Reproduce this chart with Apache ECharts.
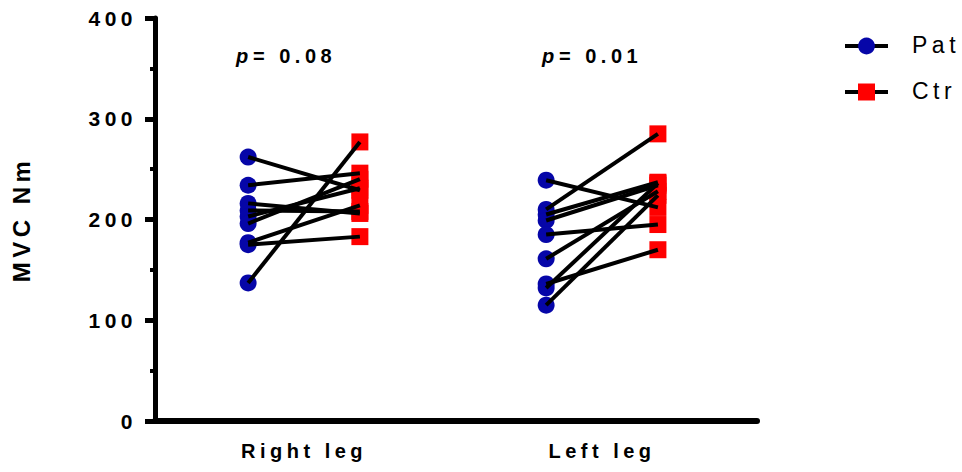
<!DOCTYPE html>
<html>
<head>
<meta charset="utf-8">
<script src="https://cdn.jsdelivr.net/npm/echarts@6/dist/echarts.min.js"></script>
<style>
  html, body { margin: 0; padding: 0; background: #fff; }
  #chart { width: 962px; height: 472px; }
  #chart svg text { letter-spacing: 4.5px; }
</style>
</head>
<body>
<div id="chart"></div>
<script>
// ---- data ----
var categories = ['Right leg', 'Left leg'];
var groupNames = ['Pat', 'Ctr'];
var patRight = [262, 234, 216, 209, 203, 196, 177, 175, 137];
var ctrRight = [229, 246, 206, 208, 231, 240, 214, 183, 277];
var patLeft  = [239, 210, 205, 199, 185, 161, 136, 132, 115];
var ctrLeft  = [212, 285, 237, 234, 195, 228, 170, 236, 224];
var pValues  = ['0.08', '0.01'];
var yTicks   = [0, 100, 200, 300, 400];
var yAxisTitle = 'MVC Nm';

// ---- build ----
var categoryCenters = [1, 3];
var offset = 0.375;
var blue = '#0606A8';
var red = '#FF0000';
var font = 'Liberation Sans, Arial, sans-serif';

var pairs = [[patRight, ctrRight], [patLeft, ctrLeft]];
var series = [];
var patPts = [], ctrPts = [];
pairs.forEach(function (pr, ci) {
  var c = categoryCenters[ci];
  pr[0].forEach(function (v, i) {
    var a = [c - offset, v], b = [c + offset, pr[1][i]];
    patPts.push(a); ctrPts.push(b);
    series.push({
      type: 'line', data: [a, b], symbol: 'none', silent: true, z: 3,
      lineStyle: { color: '#000', width: 4 }
    });
  });
});
series.push({ name: groupNames[0], type: 'scatter', data: patPts, symbol: 'circle',
  symbolSize: 17, itemStyle: { color: blue, opacity: 1 }, z: 2 });
series.push({ name: groupNames[1], type: 'scatter', data: ctrPts, symbol: 'rect',
  symbolSize: 17, itemStyle: { color: red, opacity: 1 }, z: 2 });

var chart = echarts.init(document.getElementById('chart'), null, { renderer: 'svg' });

var graphics = [];
// p-value annotations
var pLeft = [236, 542];
pValues.forEach(function (p, i) {
  graphics.push({
    type: 'text', left: pLeft[i], top: 46,
    style: { text: 'p', font: 'italic bold 20px ' + font, fill: '#000' }
  });
  graphics.push({
    type: 'text', left: pLeft[i] + 17, top: 46,
    style: { text: '= ' + p, font: 'bold 20px ' + font, fill: '#000' }
  });
});
// legend
var legY = [46, 92];
groupNames.forEach(function (n, i) {
  var y = legY[i];
  graphics.push({ type: 'line', shape: { x1: 845, y1: y, x2: 888, y2: y },
    style: { stroke: '#000', lineWidth: 4 } });
  if (i === 0) {
    graphics.push({ type: 'circle', shape: { cx: 866.5, cy: y, r: 8.4 }, style: { fill: blue } });
  } else {
    graphics.push({ type: 'rect', shape: { x: 858, y: y - 8.5, width: 17, height: 17 }, style: { fill: red } });
  }
  graphics.push({ type: 'text', left: 912, top: y - 13,
    style: { text: n, font: '23px ' + font, fill: '#000' } });
});

chart.setOption({
  animation: false,
  backgroundColor: '#fff',
  grid: { left: 155, right: 205, top: 18, bottom: 51, containLabel: false },
  xAxis: {
    type: 'value', min: 0, max: 4.04, interval: 1,
    axisLine: { show: true, lineStyle: { color: '#000', width: 6 } },
    axisTick: { show: false },
    splitLine: { show: false },
    axisLabel: {
      margin: 20, color: '#000', fontSize: 20, fontWeight: 'bold', fontFamily: font,
      showMaxLabel: false, showMinLabel: false,
      formatter: function (v) {
        var idx = categoryCenters.indexOf(v);
        return idx >= 0 ? categories[idx] : '';
      }
    }
  },
  yAxis: {
    type: 'value', min: yTicks[0], max: yTicks[yTicks.length - 1], interval: 100,
    name: yAxisTitle, nameLocation: 'middle', nameGap: 122, nameRotate: 90,
    nameTextStyle: { color: '#000', fontSize: 24, fontWeight: 'bold', fontFamily: font },
    axisLine: { show: true, lineStyle: { color: '#000', width: 5 } },
    axisTick: { show: true, length: 10, lineStyle: { color: '#000', width: 5 } },
    minorTick: { show: true, splitNumber: 2, length: 5, lineStyle: { color: '#000', width: 4 } },
    splitLine: { show: false },
    axisLabel: { margin: 18, color: '#000', fontSize: 21, fontWeight: 'bold', fontFamily: font }
  },
  graphic: graphics,
  series: series
});
</script>
</body>
</html>
